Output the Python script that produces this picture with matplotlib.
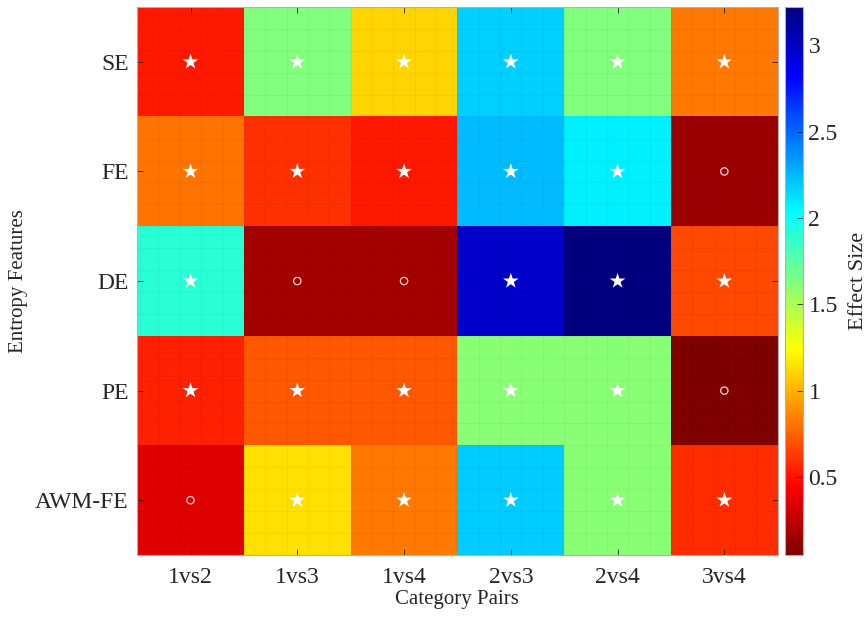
import numpy as np
import matplotlib
matplotlib.use("Agg")
import matplotlib.pyplot as plt
from matplotlib.colors import LinearSegmentedColormap

plt.rcParams['font.family'] = ['Liberation Serif', 'DejaVu Serif']

pairs = ['1vs2', '1vs3', '1vs4', '2vs3', '2vs4', '3vs4']
features = ['SE', 'FE', 'DE', 'PE', 'AWM-FE']

# effect sizes
se = [0.53, 1.63, 1.11, 2.17, 1.63, 0.82]
fe = [0.81, 0.60, 0.53, 2.23, 2.08, 0.14]
de = [1.90, 0.17, 0.17, 2.98, 3.22, 0.68]
pe = [0.55, 0.72, 0.72, 1.60, 1.60, 0.05]
awm = [0.35, 1.15, 0.82, 2.19, 1.60, 0.59]

# 1 = significant (star), 0 = not significant (circle)
sig_se = [1, 1, 1, 1, 1, 1]
sig_fe = [1, 1, 1, 1, 1, 0]
sig_de = [1, 0, 0, 1, 1, 1]
sig_pe = [1, 1, 1, 1, 1, 0]
sig_awm = [0, 1, 1, 1, 1, 1]

data = np.array([se, fe, de, pe, awm])
sig = np.array([sig_se, sig_fe, sig_de, sig_pe, sig_awm])

# matlab style jet, reversed
jet_m = LinearSegmentedColormap.from_list('jetm', [
    (0.0, (0, 0, 0.5)), (0.125, (0, 0, 1)), (0.375, (0, 1, 1)),
    (0.5, (0.5, 1, 0.5)), (0.625, (1, 1, 0)), (0.875, (1, 0, 0)),
    (1.0, (0.5, 0, 0))])
cmap = jet_m.reversed()

txt = '#262626'
fig = plt.figure(figsize=(8.68, 6.17), dpi=100)
ax = fig.add_axes([0.158, 0.1005, 0.738, 0.888])
im = ax.imshow(data, cmap=cmap, vmin=data.min(), vmax=data.max(), aspect='auto')

# faint grid inside the cells
for v in np.arange(-0.5, 5.5, 0.2):
    ax.axvline(v, color='k', alpha=0.04, lw=0.8)
for v in np.arange(-0.5, 4.5, 0.2):
    ax.axhline(v, color='k', alpha=0.04, lw=0.8)

rows, cols = np.nonzero(sig == 1)
ax.scatter(cols, rows, marker='*', s=140, color='white', edgecolors='none', zorder=3)
rows, cols = np.nonzero(sig == 0)
ax.scatter(cols, rows, marker='o', s=28, facecolors='none', edgecolors='#f4d6d6', linewidths=0.9, zorder=3)

ax.set_xticks(range(len(pairs)))
ax.set_xticklabels(pairs)
ax.set_yticks(range(len(features)))
ax.set_yticklabels(features)
ax.tick_params(direction='in', length=4, width=0.6, top=True, right=True,
               labelsize=17, colors=txt)
ax.tick_params(axis='x', pad=9)
ax.tick_params(axis='y', pad=6)
for s in ax.spines.values():
    s.set_color('#b0b0b0')
    s.set_linewidth(0.8)
ax.set_xlabel('Category Pairs', fontsize=15, color=txt, labelpad=1)
ax.set_ylabel('Entropy Features', fontsize=15, color=txt, labelpad=5)

cax = fig.add_axes([0.904, 0.1005, 0.021, 0.888])
cb = fig.colorbar(im, cax=cax)
cb.set_ticks([0.5, 1, 1.5, 2, 2.5, 3])
cb.set_ticklabels(['0.5', '1', '1.5', '2', '2.5', '3'])
cb.ax.tick_params(direction='in', length=4, width=0.6, labelsize=17, colors=txt, pad=4)
cb.outline.set_edgecolor('#b0b0b0')
cb.outline.set_linewidth(0.8)
cb.set_label('Effect Size', fontsize=16, color=txt, labelpad=8)

fig.savefig('out.png', dpi=100)
